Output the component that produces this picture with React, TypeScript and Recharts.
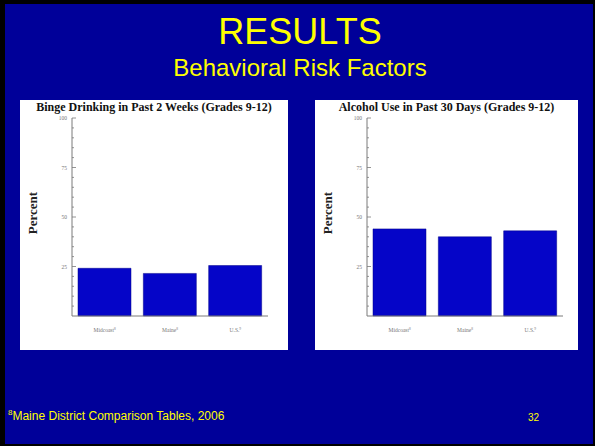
import React from "react";
import { BarChart, Bar, XAxis, YAxis } from "recharts";

const categories = ["Midcoast", "Maine", "U.S."];
const footnoteMarks = ["8", "8", "9"];
const bingeValues = [24.1, 21.5, 25.5];
const alcoholValues = [44, 40, 43];
const yTicks = [0, 5, 10, 15, 20, 25, 30, 35, 40, 45, 50, 55, 60, 65, 70, 75, 80, 85, 90, 95, 100];
const yLabels = [25, 50, 75, 100];

const SLIDE_BG = "#000099";
const YELLOW = "#ffff00";
const BAR = "#0505c8";
const AXIS = "#7a7a7a";

function YTick(props: any) {
  const { x, y, payload } = props;
  const v = payload.value as number;
  const major = yLabels.includes(v);
  return (
    <g>
      {v !== 0 && <line x1={x} x2={x + (major ? 4 : 2)} y1={y} y2={y} stroke={AXIS} strokeWidth={0.8} />}
      {major && (
        <text x={x - 5} y={y} dy={2} textAnchor="end" fontSize={5.5} fill="#777" fontFamily="Liberation Serif">
          {v}
        </text>
      )}
    </g>
  );
}

function XTick(props: any) {
  const { x, y, payload, index } = props;
  return (
    <text x={x} y={y + 8} textAnchor="middle" fontSize={5.5} fill="#777" fontFamily="Liberation Serif">
      {payload.value}
      <tspan fontSize={3.5} dy={-2}>{footnoteMarks[index]}</tspan>
    </text>
  );
}

function Panel({ title, values, left, width, right }: { title: string; values: number[]; left: number; width: number; right: number }) {
  const data = categories.map((c, i) => ({ name: c, value: values[i] }));
  return (
    <div style={{ position: "absolute", left, top: 100, width, height: 250, background: "#fff" }}>
      <div
        style={{
          position: "absolute",
          left: 0,
          top: 0,
          width,
          textAlign: "center",
          fontFamily: "Liberation Serif",
          fontWeight: "bold",
          fontSize: 12,
          lineHeight: "14px",
          color: "#111",
        }}
      >
        {title}
      </div>
      <div
        style={{
          position: "absolute",
          left: 13 - 40,
          top: 113 - 8,
          width: 80,
          textAlign: "center",
          transform: "rotate(-90deg)",
          fontFamily: "Liberation Serif",
          fontWeight: "bold",
          fontSize: 13,
          lineHeight: "16px",
          color: "#222",
        }}
      >
        Percent
      </div>
      <BarChart
        width={width}
        height={250}
        data={data}
        margin={{ top: 18, right, bottom: 14, left: 0 }}
        barCategoryGap={6}
        style={{ position: "absolute", left: 0, top: 0 }}
      >
        <XAxis
          dataKey="name"
          height={20}
          stroke={AXIS}
          tickLine={false}
          tick={<XTick />}
          interval={0}
        />
        <YAxis
          width={52}
          domain={[0, 100]}
          ticks={yTicks}
          interval={0}
          stroke={AXIS}
          tickLine={false}
          tickSize={0}
          tickMargin={0}
          tick={<YTick />}
        />
        <Bar dataKey="value" fill={BAR} stroke="#00008a" strokeWidth={0.5} isAnimationActive={false} />
      </BarChart>
    </div>
  );
}

export default function App() {
  return (
    <div
      style={{
        position: "absolute",
        left: 0,
        top: 0,
        width: 595,
        height: 446,
        boxSizing: "border-box",
        background: SLIDE_BG,
        borderTop: "4px solid #000",
        borderLeft: "5px solid #000",
        borderRight: "2px solid #000",
        borderBottom: "2px solid #000",
        overflow: "hidden",
      }}
    >
      <div style={{ position: "absolute", left: -5, top: -4, width: 595, height: 446 }}>
        <div
          style={{
            position: "absolute",
            left: 0,
            width: 600,
            top: 12,
            textAlign: "center",
            color: YELLOW,
            fontFamily: "Liberation Sans",
            fontSize: 36,
            lineHeight: "40px",
          }}
        >
          RESULTS
        </div>
        <div
          style={{
            position: "absolute",
            left: 0,
            width: 600,
            top: 54,
            textAlign: "center",
            color: YELLOW,
            fontFamily: "Liberation Sans",
            fontSize: 24,
            lineHeight: "28px",
          }}
        >
          Behavioral Risk Factors
        </div>
        <Panel title="Binge Drinking in Past 2 Weeks (Grades 9-12)" values={bingeValues} left={20} width={268} right={20} />
        <Panel title="Alcohol Use in Past 30 Days (Grades 9-12)" values={alcoholValues} left={315} width={263} right={15} />
        <div
          style={{
            position: "absolute",
            left: 8,
            top: 405,
            color: YELLOW,
            fontFamily: "Liberation Sans",
            fontSize: 12,
            lineHeight: "16px",
          }}
        >
          <sup style={{ fontSize: 8 }}>8</sup>Maine District Comparison Tables, 2006
        </div>
        <div
          style={{
            position: "absolute",
            left: 528,
            top: 412,
            color: YELLOW,
            fontFamily: "Liberation Sans",
            fontSize: 10,
            lineHeight: "12px",
          }}
        >
          32
        </div>
      </div>
    </div>
  );
}
